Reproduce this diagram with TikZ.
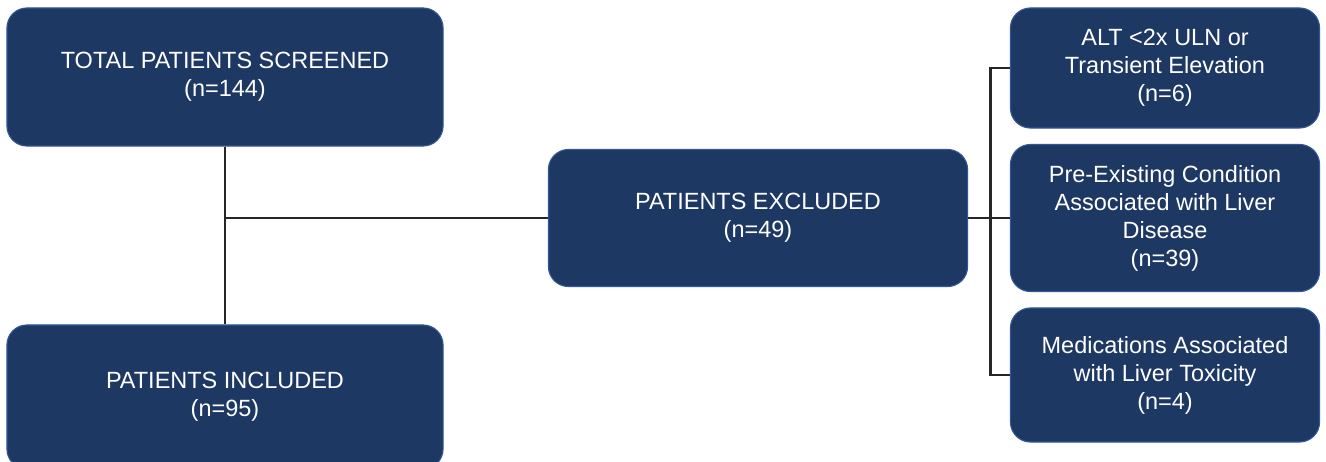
\documentclass[tikz,border=0pt]{standalone}
\usepackage{fontspec}
\setmainfont{Liberation Sans}
\usetikzlibrary{calc, positioning}
\definecolor{boxblue}{RGB}{30,56,100}
\definecolor{edgeblue}{RGB}{50,86,150}
\tikzset{
    flowbox/.style = {
        draw=edgeblue, fill=boxblue, text=white, rectangle, rounded corners=0.5cm,
        line width=0.8pt, align=center, inner sep=0pt,
        font=\fontsize{16.7}{19.9}\selectfont
    },
    link/.style = {draw=black!85, line width=2pt},
}
\begin{document}
\begin{tikzpicture}[x=0.025cm, y=-0.025cm]
        % Fix the page size
        \useasboundingbox (0,0) rectangle (1326,461);
        % Place the blocks
        \node[flowbox, minimum width=10.9cm, minimum height=3.45cm] (screened) at (225,77) {TOTAL PATIENTS SCREENED\\(n=144)};
        \node[flowbox, minimum width=10.9cm, minimum height=3.6cm] (included) at (225,397) {PATIENTS INCLUDED\\(n=95)};
        \node[flowbox, minimum width=10.475cm, minimum height=3.425cm] (excluded) at (758,218) {PATIENTS EXCLUDED\\(n=49)};
        \node[flowbox, minimum width=7.725cm, minimum height=3cm] (alt) at (1165,68) {ALT <2x ULN or\\Transient Elevation\\(n=6)};
        \node[flowbox, minimum width=7.725cm, minimum height=3.675cm] (preexist) at (1165,218) {Pre-Existing Condition\\Associated with Liver\\Disease\\(n=39)};
        \node[flowbox, minimum width=7.725cm, minimum height=3.35cm] (meds) at (1165,375) {Medications Associated\\with Liver Toxicity\\(n=4)};
        % Draw connections
        \draw[link] (screened.south) -- (included.north);
        \draw[link] (screened.south |- excluded.west) -- (excluded.west);
        \coordinate (fork) at ($(excluded.east)+(22,0)$);
        \draw[link] (excluded.east) -- (preexist.west);
        \draw[link] (alt.west) -| (fork) |- (meds.west);
\end{tikzpicture}
\end{document}
